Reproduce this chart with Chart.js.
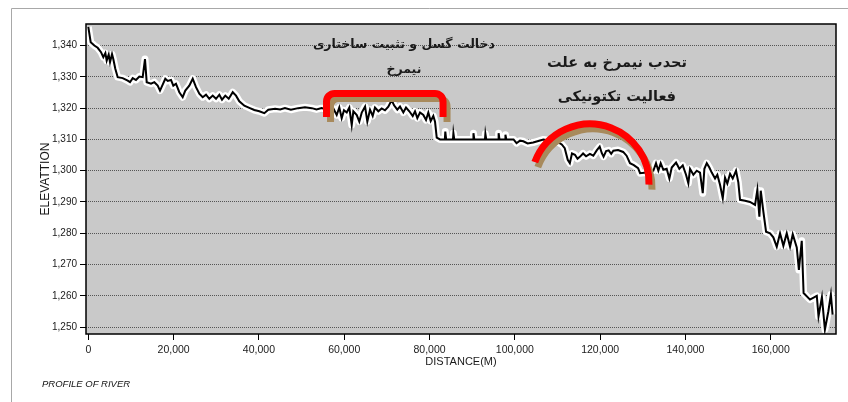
<!DOCTYPE html>
<html>
<head>
    <title>Profile of River</title>
    <script src="https://cdn.jsdelivr.net/npm/chart.js"></script>
    <style>
        body { margin: 0; background: #fff; }
    </style>
</head>
<body>

<canvas id="profileChart" width="848" height="402"></canvas>

<script>
    // river profile (distance in m, elevation in m)
    const distances = [
        // upper reach
        0, 560, 1410, 2200, 2980, 3520, 4000, 4310, 4780, 5090, 5560, 5860, 6330, 6890, 8060, 9240,
        9780, 10410, 11180, 11960, 12750, 13290, 13690, 14700, 15480, 16270, 16810, 17440, 18050, 18620,
        19390, 19930, 20560, 21340, 22130, 22740, 23680, 24480, 25250, 26030, 26820, 27600, 28370, 29170,
        29940, 30720, 31350, 32120, 32920, 33860, 34630, 35400, 36580, 37750, 38920, 40090, 41270,
        42200, 43800, 45000, 46100, 47500, 49200, 50800, 52400, 53500, 54700, 56000,
        // faulted reach
        57450, 58240, 58850, 59410, 59950, 60590, 61200, 61760, 62140, 62940, 63540, 64110, 64890, 65420,
        66050, 66680, 67210, 68000, 68790, 69560, 70340, 71130, 71680, 72450, 73080, 73860, 74490, 75260,
        76060, 76600, 77140, 77770, 78550, 79180, 79720, 80280, 80890, 81290, 81690, 82460,
        // flat reach
        83600, 83700, 83900, 85500, 85600, 85800, 90200, 90300, 90500, 93000, 93100, 93300,
        96100, 96200, 96400, 97700, 97800, 98000, 99700, 100400, 101200, 102000, 103000, 104300,
        105500, 106700, 108200, 109800,
        // convex reach
        111000, 111700, 112400, 112900, 113400, 114100, 114700, 115300, 116000, 116700, 117600, 118400,
        119200, 119900, 120400, 120800, 121400, 122000, 122600, 123100, 124200, 125400, 126200, 127000,
        127900, 128900,
        // lower reach
        129360, 130920, 132480, 133100, 133650, 134200, 134820, 135600, 136230, 136790, 137800, 138570,
        139370, 140140, 140680, 141080, 141860, 142650, 143420, 144060, 144440, 145000, 145610, 146170,
        146940, 147480, 148110, 148750, 149280, 149820, 150460, 151090, 151860, 152400, 152800, 153970,
        155140, 156320, 156860, 157330, 157660, 158270, 158900, 159840, 160610, 161410, 162180, 162960,
        163750, 164530, 165160, 166100, 166600, 167270,
        167700, 169200, 170800, 171200, 172000, 172700, 173500, 174100, 174500
    ];
    const elevations = [
        // upper reach
        1346, 1341.1, 1340, 1339.3, 1337.9, 1336.3, 1337.6, 1335.2, 1337.1, 1334.7, 1337.3, 1335.7, 1332.6, 1329.9, 1329.6, 1328.8,
        1328.3, 1329.6, 1329, 1330.1, 1329.9, 1335.7, 1328.3, 1327.8, 1328.3, 1327.2, 1325.6, 1327.5, 1329.4, 1328.7,
        1329, 1327.2, 1327.8, 1325.1, 1323.5, 1325.6, 1327.2, 1329.4, 1326.7, 1324.6, 1323.5, 1324.3, 1323, 1324,
        1323, 1324.3, 1322.7, 1324, 1323, 1325.1, 1324, 1322.2, 1320.8, 1320.1, 1319.4, 1319, 1318.4,
        1319.5, 1319.8, 1319.6, 1320, 1319.5, 1320, 1320.3, 1320, 1319.6, 1320, 1319.5,
        // faulted reach
        1319.9, 1317.8, 1320.2, 1316.8, 1319.3, 1318.6, 1320.2, 1314.6, 1319, 1317.8, 1315.7, 1318.6, 1320.5, 1315.7,
        1319.5, 1317.5, 1320.2, 1319, 1319.9, 1319.3, 1320.5, 1322.6, 1320.9, 1319.5, 1320.5, 1318.6, 1320.2, 1319,
        1317.5, 1319, 1316.8, 1318.6, 1317.8, 1316.2, 1318.6, 1315.9, 1317.5, 1315.7, 1310.6, 1310,
        // flat reach
        1310, 1312.5, 1310, 1310, 1312, 1310, 1310, 1312, 1310, 1310, 1311.8, 1310,
        1310, 1312, 1310, 1310, 1311.5, 1310, 1310, 1308.8, 1309.6, 1309.4, 1308.7, 1309,
        1309.5, 1310, 1309.6, 1309.4,
        // convex reach
        1308.4, 1307.2, 1303.5, 1302.4, 1305.5, 1305.1, 1303.8, 1304.5, 1305.5, 1304.6, 1305.4, 1304.8,
        1306.5, 1307.7, 1305.6, 1304.5, 1306.3, 1306.5, 1305.4, 1306.4, 1306.6, 1306, 1304.8, 1302.4,
        1301.8, 1300.8,
        // lower reach
        1299.2, 1299.4, 1300, 1302.4, 1300, 1302.4, 1300.3, 1300.6, 1297.5, 1301, 1302.6, 1300.6,
        1301.7, 1298.7, 1296, 1300.6, 1298.7, 1300, 1299.4, 1292.8, 1300.6, 1302.4, 1301, 1299.4,
        1297.5, 1298.7, 1295.5, 1291.2, 1297.8, 1295.9, 1299, 1297.5, 1300, 1296.3, 1290.7, 1290.4,
        1290, 1289.1, 1293.9, 1285.3, 1293.6, 1286.9, 1280.5, 1280, 1278.7, 1275.7, 1280, 1276,
        1280, 1275.7, 1279.7, 1275.5, 1268.3, 1277.6,
        1260.9, 1258.8, 1260, 1253.4, 1259.6, 1249.2, 1255, 1260.4, 1254
    ];

    const xTickValues = [0, 20000, 40000, 60000, 80000, 100000, 120000, 140000, 160000];
    const yTickValues = [1250, 1260, 1270, 1280, 1290, 1300, 1310, 1320, 1330, 1340];

    const faultNote = ['دخالت گسل و تثبیت ساختاری', 'نیمرخ'];
    const tectonicNote = ['تحدب نیمرخ به علت', 'فعالیت تکتونیکی'];
    const footNote = 'PROFILE OF RIVER';

    const profilePoints = distances.map((d, i) => ({x: d, y: elevations[i]}));

    const fontFamily = '"Liberation Sans", Arial, sans-serif';

    // frame, grey plot fill, and the hand-drawn marks on top
    const sketchPlugin = {
        id: 'sketch',
        beforeDraw(chart) {
            const ctx = chart.ctx;
            const a = chart.chartArea;
            ctx.save();
            ctx.fillStyle = '#ffffff';
            ctx.fillRect(0, 0, chart.width, chart.height);
            ctx.strokeStyle = '#a8a8a8';
            ctx.lineWidth = 1;
            ctx.beginPath();
            ctx.moveTo(11.5, chart.height);
            ctx.lineTo(11.5, 8.5);
            ctx.lineTo(chart.width, 8.5);
            ctx.stroke();
            ctx.fillStyle = '#c9c9c9';
            ctx.fillRect(a.left, a.top, a.right - a.left, a.bottom - a.top);
            ctx.restore();
        },
        afterDatasetsDraw(chart) {
            const ctx = chart.ctx;
            const a = chart.chartArea;
            const xs = chart.scales.x;
            const ys = chart.scales.y;
            ctx.save();

            // plot border
            ctx.strokeStyle = '#000';
            ctx.lineWidth = 1.5;
            ctx.strokeRect(a.left, a.top, a.right - a.left, a.bottom - a.top);

            // bracket over the faulted reach
            const bx1 = xs.getPixelForValue(55850), bx2 = xs.getPixelForValue(83170);
            const bTop = ys.getPixelForValue(1324.7), bBot = ys.getPixelForValue(1317.2);
            const bracket = (dx, dy, color) => {
                ctx.strokeStyle = color;
                ctx.lineWidth = 7;
                ctx.lineJoin = 'round';
                ctx.lineCap = 'butt';
                ctx.beginPath();
                ctx.moveTo(bx1 + dx, bBot + dy);
                ctx.arcTo(bx1 + dx, bTop + dy, bx2 + dx, bTop + dy, 8);
                ctx.arcTo(bx2 + dx, bTop + dy, bx2 + dx, bBot + dy, 8);
                ctx.lineTo(bx2 + dx, bBot + dy);
                ctx.stroke();
            };
            bracket(4, 5, '#a88a5c');
            bracket(0, 0, '#ff0000');

            // arc over the convex reach
            const cx = xs.getPixelForValue(117630), cy = ys.getPixelForValue(1296.1);
            const arc = (dx, dy, color) => {
                ctx.strokeStyle = color;
                ctx.lineWidth = 7;
                ctx.lineCap = 'butt';
                ctx.beginPath();
                ctx.arc(cx + dx, cy + dy, 59, Math.PI + 0.36, 2 * Math.PI + 0.03);
                ctx.stroke();
            };
            arc(3, 5, '#a88a5c');
            arc(0, 0, '#ff0000');

            // notes
            ctx.fillStyle = '#1a1a1a';
            ctx.textAlign = 'center';
            ctx.textBaseline = 'middle';
            ctx.font = 'bold 12.5px "DejaVu Sans", sans-serif';
            ctx.fillText(faultNote[0], xs.getPixelForValue(74000), ys.getPixelForValue(1340.2));
            ctx.fillText(faultNote[1], xs.getPixelForValue(74000), ys.getPixelForValue(1332.2));
            ctx.font = 'bold 14.5px "DejaVu Sans", sans-serif';
            ctx.fillText(tectonicNote[0], xs.getPixelForValue(123950), ys.getPixelForValue(1334.5));
            ctx.fillText(tectonicNote[1], xs.getPixelForValue(123950), ys.getPixelForValue(1323.6));

            ctx.restore();
        },
        afterDraw(chart) {
            const ctx = chart.ctx;
            ctx.save();
            ctx.fillStyle = '#111';
            ctx.font = 'italic 9.5px ' + fontFamily;
            ctx.textAlign = 'left';
            ctx.textBaseline = 'middle';
            ctx.fillText(footNote, 42, 384);
            ctx.restore();
        }
    };

    const ctx = document.getElementById('profileChart').getContext('2d');
    const profileChart = new Chart(ctx, {
        type: 'line',
        data: {
            datasets: [
                {
                    // white halo under the profile
                    data: profilePoints,
                    borderColor: '#ffffff',
                    borderWidth: 7,
                    borderJoinStyle: 'round',
                    pointRadius: 0,
                    tension: 0,
                    order: 2
                },
                {
                    data: profilePoints,
                    borderColor: '#000000',
                    borderWidth: 2,
                    pointRadius: 0,
                    tension: 0,
                    order: 1
                }
            ]
        },
        options: {
            responsive: false,
            animation: false,
            layout: {
                padding: {left: 0, top: 24, right: 12, bottom: 0}
            },
            plugins: {
                legend: {display: false},
                tooltip: {enabled: false}
            },
            scales: {
                x: {
                    type: 'linear',
                    min: -540,
                    max: 175300,
                    afterBuildTicks: scale => {
                        scale.ticks = xTickValues.map(v => ({value: v}));
                    },
                    afterFit: scale => {
                        scale.height = 68;
                    },
                    grid: {
                        drawOnChartArea: false,
                        drawTicks: true,
                        tickLength: 6,
                        tickColor: '#000'
                    },
                    border: {display: false},
                    ticks: {
                        padding: 4,
                        maxRotation: 0,
                        color: '#1a1a1a',
                        font: {family: fontFamily, size: 10.5},
                        callback: v => v.toLocaleString('en-US')
                    },
                    title: {
                        display: true,
                        text: 'DISTANCE(M)',
                        color: '#1a1a1a',
                        font: {family: fontFamily, size: 11},
                        padding: {top: 0, bottom: 33}
                    }
                },
                y: {
                    min: 1247.8,
                    max: 1346.9,
                    afterBuildTicks: scale => {
                        scale.ticks = yTickValues.map(v => ({value: v}));
                    },
                    afterFit: scale => {
                        scale.width = 86;
                    },
                    grid: {
                        color: '#555',
                        lineWidth: 1,
                        drawTicks: true,
                        tickLength: 6,
                        tickColor: '#000'
                    },
                    border: {display: false, dash: [1, 1]},
                    ticks: {
                        padding: 3,
                        color: '#1a1a1a',
                        font: {family: fontFamily, size: 10},
                        callback: v => v.toLocaleString('en-US')
                    },
                    title: {
                        display: true,
                        text: 'ELEVATTION',
                        color: '#1a1a1a',
                        font: {family: fontFamily, size: 12},
                        padding: {top: 38, bottom: 0}
                    }
                }
            }
        },
        plugins: [sketchPlugin]
    });
</script>

</body>
</html>
